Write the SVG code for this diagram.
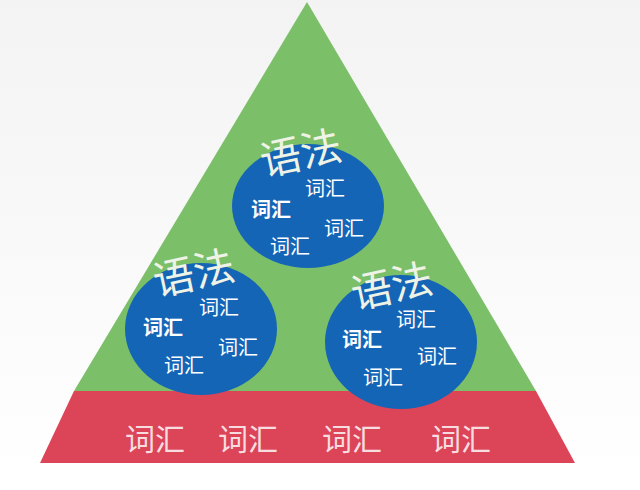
<svg xmlns="http://www.w3.org/2000/svg" width="640" height="490" viewBox="0 0 640 490">
<defs>
<linearGradient id="bg" x1="0" y1="0" x2="0" y2="1">
<stop offset="0" stop-color="#f3f3f3"/>
<stop offset="1" stop-color="#ffffff"/>
</linearGradient>
<style>
.w{font-family:"Noto Sans CJK SC","Noto Sans",sans-serif;fill:#ffffff;font-size:20px;text-anchor:middle;dominant-baseline:central}
.b{font-weight:bold}
.g{font-family:"Noto Sans CJK SC","Noto Sans",sans-serif;fill:#eef3e6;font-size:41px;text-anchor:middle;dominant-baseline:central}
.r{font-family:"Noto Sans CJK SC","Noto Sans",sans-serif;fill:#f7dde0;font-size:30px;text-anchor:middle;dominant-baseline:central}
.c{fill:#1565b6}
</style>
</defs>
<rect width="640" height="490" fill="url(#bg)"/>
<g id="pyramid">
<polygon points="307,2 74,391 536,391" fill="#7cbf69"/>
</g>
<g id="base">
<polygon points="74,391 536,391 575,463 40,463" fill="#dc4457"/>
<text class="r" x="155" y="437">词汇</text>
<text class="r" x="248" y="437">词汇</text>
<text class="r" x="352" y="437">词汇</text>
<text class="r" x="461" y="437">词汇</text>
</g>
<g id="connectors"></g>
<g id="circle-top">
<ellipse class="c" cx="308" cy="206" rx="76" ry="62"/>
<text class="g" x="300" y="150" transform="rotate(-12 300 150)">语法</text>
<text class="w" x="325" y="187">词汇</text>
<text class="w b" x="271" y="208">词汇</text>
<text class="w" x="344" y="227">词汇</text>
<text class="w" x="290" y="245">词汇</text>
</g>
<g id="circle-left">
<ellipse class="c" cx="201" cy="329" rx="76" ry="66"/>
<text class="g" x="193" y="270" transform="rotate(-12 193 270)">语法</text>
<text class="w" x="219" y="306">词汇</text>
<text class="w b" x="163" y="326">词汇</text>
<text class="w" x="238" y="346">词汇</text>
<text class="w" x="184" y="364">词汇</text>
</g>
<g id="circle-right">
<ellipse class="c" cx="401" cy="342" rx="76" ry="67"/>
<text class="g" x="391" y="283" transform="rotate(-12 391 283)">语法</text>
<text class="w" x="416" y="318">词汇</text>
<text class="w b" x="362" y="338">词汇</text>
<text class="w" x="437" y="355">词汇</text>
<text class="w" x="383" y="376">词汇</text>
</g>
</svg>
